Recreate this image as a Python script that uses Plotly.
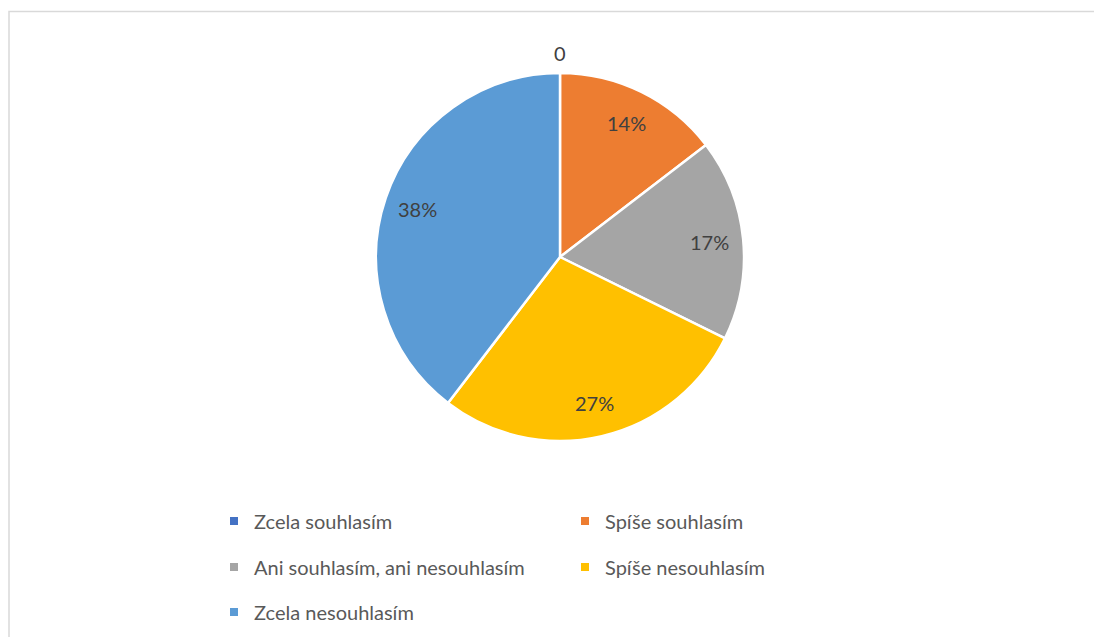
import math
import plotly.graph_objects as go

categories = ["Zcela souhlasím", "Spíše souhlasím", "Ani souhlasím, ani nesouhlasím",
              "Spíše nesouhlasím", "Zcela nesouhlasím"]
values = [0.0, 0.14, 0.17, 0.27, 0.38]
colors = ["#4472C4", "#ED7D31", "#A5A5A5", "#FFC000", "#5B9BD5"]

W, H = 1102, 637
FONT = "Lato"

texts = [f"{v:.0%}" if v else "0" for v in values]

# geometry in plot pixels (page has an 8px body margin)
cx, cy, r = 552, 249, 184

fig = go.Figure()
fig.add_trace(go.Pie(
    labels=categories, values=values, sort=False, direction="clockwise", rotation=0,
    marker=dict(colors=colors, line=dict(color="white", width=2.5)),
    textinfo="none", showlegend=False, hoverinfo="label+percent",
    domain=dict(x=[(cx - r) / W, (cx + r) / W], y=[1 - (cy + r) / H, 1 - (cy - r) / H]),
))

# data labels placed at slice mid-angles, computed from the values
total = sum(values)
cum = 0.0
annotations = []
for v, t in zip(values, texts):
    mid = (cum + v / 2) / total * 2 * math.pi
    cum += v
    rr = r * (0.815 if v else 1.11)
    px = cx + rr * math.sin(mid)
    py = cy - rr * math.cos(mid)
    annotations.append(dict(x=px / W, y=1 - py / H, xref="paper", yref="paper",
                            text=t, showarrow=False, xanchor="center", yanchor="middle",
                            font=dict(family=FONT, size=20, color="#404040")))

# legend rows (two entries per row)
row_y = [513, 559, 604]
for i, (name, col) in enumerate(zip(categories, colors)):
    row = i // 2
    lg = "legend" if row == 0 else f"legend{row + 1}"
    fig.add_trace(go.Scatter(
        x=[None], y=[None], mode="markers", name=name,
        marker=dict(symbol="square", size=8, color=col),
        legend=lg, showlegend=True, hoverinfo="skip",
    ))

leg_common = dict(orientation="h", xanchor="left", yanchor="middle", x=206 / W,
                  entrywidth=306, entrywidthmode="pixels",
                  font=dict(family=FONT, size=20, color="#595959"),
                  bgcolor="rgba(0,0,0,0)", itemclick=False, itemdoubleclick=False)
fig.update_layout(
    legend=dict(**leg_common, y=1 - row_y[0] / H),
    legend2=dict(**leg_common, y=1 - row_y[1] / H),
    legend3=dict(**leg_common, y=1 - row_y[2] / H),
)

fig.update_layout(
    width=W, height=H, margin=dict(l=0, r=0, t=0, b=0),
    paper_bgcolor="white", plot_bgcolor="white",
    xaxis=dict(visible=False), yaxis=dict(visible=False),
    font=dict(family=FONT),
    annotations=annotations,
    shapes=[dict(type="rect", xref="paper", yref="paper",
                 x0=1 / W, x1=1.02, y0=-0.02, y1=1 - 3.5 / H,
                 line=dict(color="#D9D9D9", width=1.5), fillcolor="rgba(0,0,0,0)", layer="below")],
)

fig.write_html("out.html")
